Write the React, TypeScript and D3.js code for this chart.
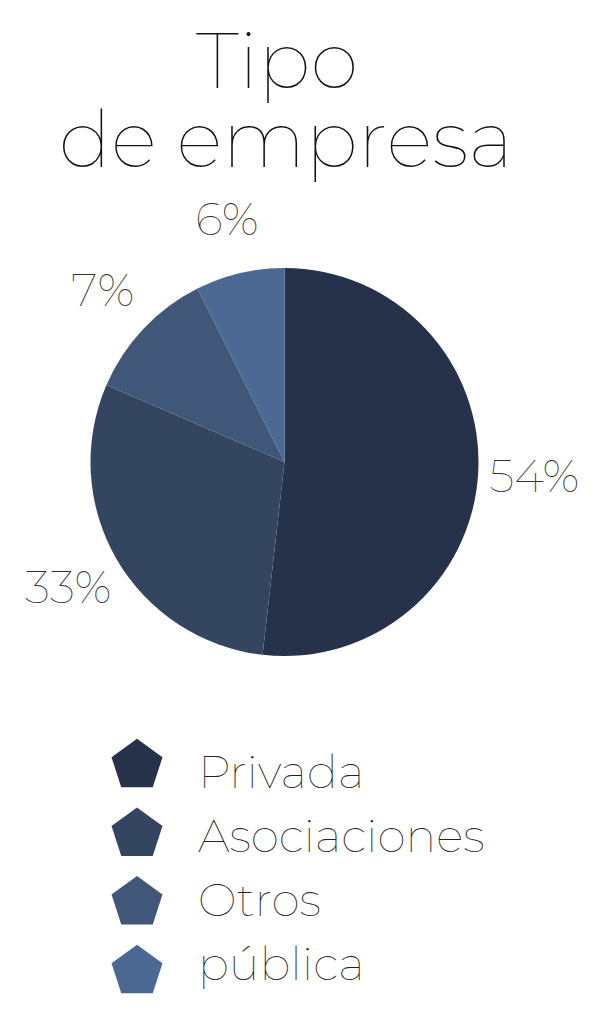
import React, { useRef, useEffect } from 'react';
import * as d3 from 'd3';

const categories = ['Privada', 'Asociaciones', 'Otros', 'pública'];
// slice sizes as drawn (angles)
const sliceValues = [51.8, 29.7, 11.1, 7.4];
// printed labels
const pctLabels = ['54%', '33%', '7%', '6%'];
const colors = ['#26324a', '#34465f', '#41577a', '#4b6892'];
const titleLines = ['Tipo', 'de empresa'];

const FONT = "Montserrat, Lato, 'Open Sans', sans-serif";

export const App: React.FC = () => {
  const svgRef = useRef<SVGSVGElement>(null);

  useEffect(() => {
    const width = 597, height = 1024;
    const svg = d3.select(svgRef.current as SVGSVGElement)
      .attr('width', width)
      .attr('height', height);
    svg.selectAll('*').remove();

    // title
    svg.append('g')
      .selectAll('text')
      .data(titleLines)
      .join('text')
      .attr('x', 286)
      .attr('dx', (_, i) => (i === 0 ? -9 : 0))
      .attr('y', (_, i) => 88 + i * 79)
      .attr('text-anchor', 'middle')
      .attr('font-family', FONT)
      .attr('font-weight', 100)
      .attr('font-size', 78)
      .attr('fill', '#111')
      .text(d => d);

    // pie
    const cx = 284.5, cy = 462, r = 194;
    const pie = d3.pie<number>().sort(null).value(d => d);
    const arcs = pie(sliceValues);
    const arc = d3.arc<d3.PieArcDatum<number>>().innerRadius(0).outerRadius(r);
    const labelArc = d3.arc<d3.PieArcDatum<number>>().innerRadius(250).outerRadius(250);

    const g = svg.append('g').attr('transform', `translate(${cx},${cy})`);
    g.selectAll('path')
      .data(arcs)
      .join('path')
      .attr('d', arc)
      .attr('fill', (_, i) => colors[i]);

    g.selectAll('text')
      .data(arcs)
      .join('text')
      .attr('transform', d => `translate(${labelArc.centroid(d)})`)
      .attr('text-anchor', 'middle')
      .attr('dy', '0.35em')
      .attr('font-family', FONT)
      .attr('font-weight', 100)
      .attr('font-size', 46)
      .attr('fill', '#333')
      .text((_, i) => pctLabels[i]);

    // legend
    const iconY = d3.scalePoint<string>().domain(categories).range([763, 969]);
    const textY = d3.scalePoint<string>().domain(categories).range([788, 980]);
    const R = 26.8;
    const pentagon = d3.lineRadial<number>()
      .angle(d => d * 2 * Math.PI / 5)
      .radius(R)
      .curve(d3.curveLinearClosed);
    const pts = d3.range(5);

    const leg = svg.append('g');
    leg.selectAll('path')
      .data(categories)
      .join('path')
      // circumcentre sits (R - R*cos36)/2 below the pentagon's bbox centre
      .attr('transform', d => `translate(137,${(iconY(d) as number) + (R - R * Math.cos(Math.PI / 5)) / 2})`)
      .attr('d', () => pentagon(pts))
      .attr('fill', (_, i) => colors[i]);

    leg.selectAll('text')
      .data(categories)
      .join('text')
      .attr('x', 198)
      .attr('y', d => textY(d) as number)
      .attr('font-family', FONT)
      .attr('font-weight', 100)
      .attr('font-size', 46)
      .attr('fill', '#222')
      .text(d => d);
  }, []);

  return <svg ref={svgRef} style={{ position: 'absolute', left: 0, top: 0, background: '#fff' }} />;
};

export default App;
